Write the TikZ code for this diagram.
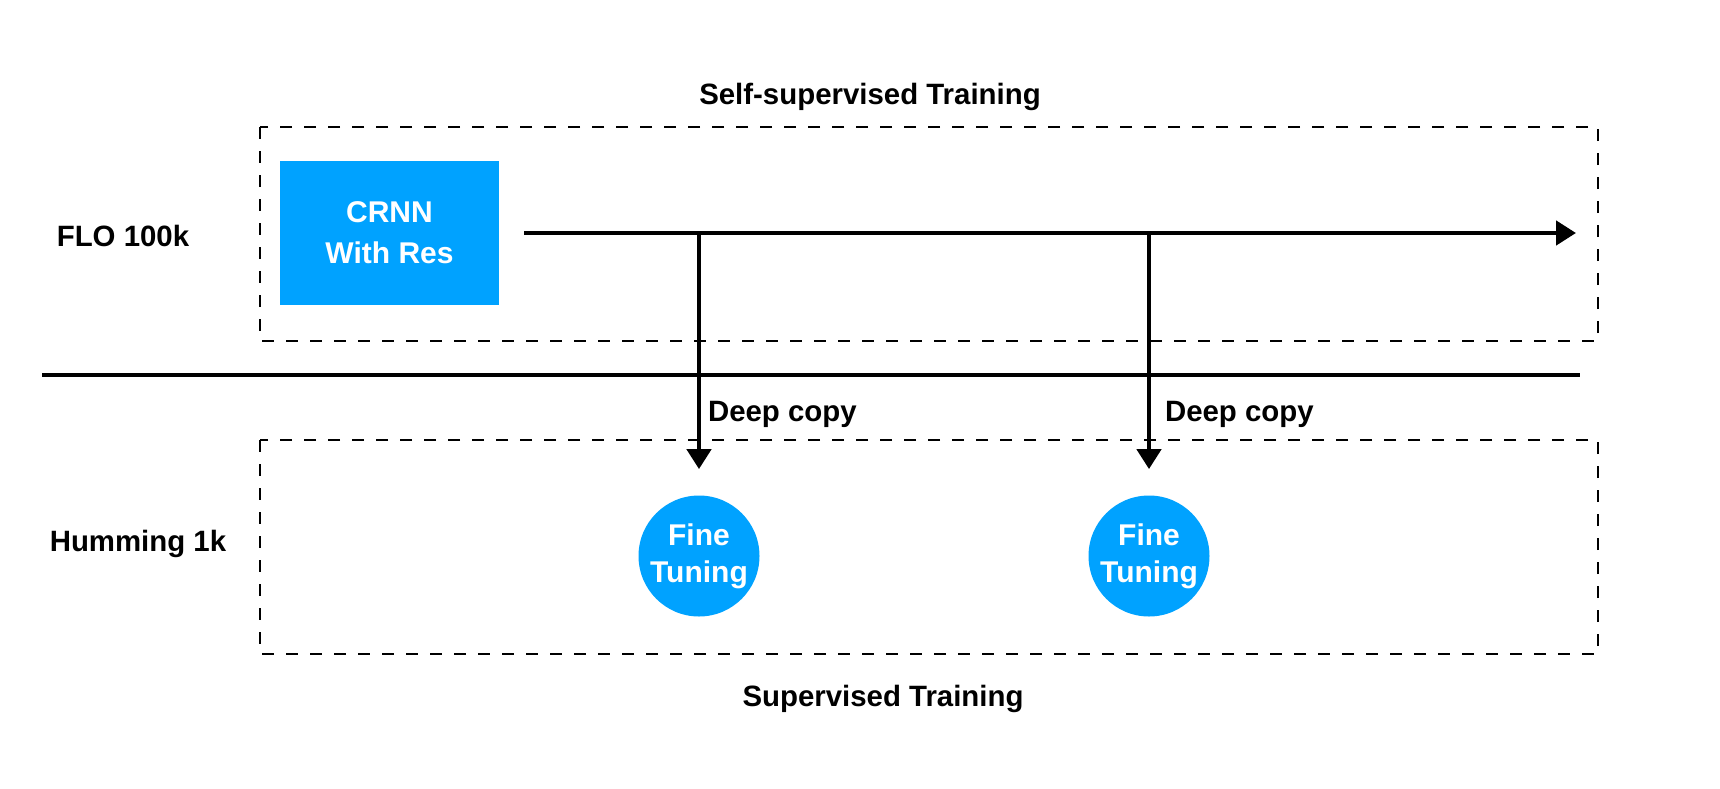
\documentclass[tikz,border=0pt]{standalone}
\usepackage{fontspec}
\setmainfont{Liberation Sans}
\usetikzlibrary{arrows.meta}
\definecolor{netblue}{RGB}{0,162,255}
\tikzset{
	lbl/.style={font=\fontsize{14.7}{17}\selectfont\bfseries},
	group/.style={line width=1pt, dash pattern=on 6pt off 6pt},
	flow/.style={line width=2.3pt, -{Triangle[length=10pt,width=12pt]}},
	model/.style={fill=netblue, text=white, align=center, inner sep=0pt,
		font=\fontsize{15}{20.5}\selectfont\bfseries},
	tune/.style={model, circle, minimum size=60.5pt,
		font=\fontsize{15}{18.5}\selectfont\bfseries},
}
\begin{document}
\begin{tikzpicture}[x=0.5pt,y=-0.5pt]
		\useasboundingbox (0,0) rectangle (1720,788);

		\coordinate (top_nw) at (260,127);
		\coordinate (top_se) at (1598,341);
		\coordinate (bot_nw) at (260,440);
		\coordinate (bot_se) at (1598,654);

		\draw [group] (top_nw) rectangle (top_se);
		\draw [group] (bot_nw) rectangle (bot_se);
		\draw [line width=2.3pt] (42,375)--(1580,375);

		\node [model, minimum width=109.5pt, minimum height=72pt] (crnn) at (389.5,233) {CRNN\\With Res};
		\node [tune] (ft_1) at (699,556) {Fine\\Tuning};
		\node [tune] (ft_2) at (1149,556) {Fine\\Tuning};

		\coordinate (end) at (1576,233);
		\coordinate (b_1) at (crnn.east -| ft_1);
		\coordinate (b_2) at (crnn.east -| ft_2);

		\draw [flow, shorten <=12.5pt] (crnn.east)--(end);
		\draw [flow, shorten >=13pt] (b_1)--(ft_1);
		\draw [flow, shorten >=13pt] (b_2)--(ft_2);

		\node [lbl, anchor=west] at (701,414) {Deep copy};
		\node [lbl, anchor=west] at (1158,414) {Deep copy};

		\node [lbl] at (870,97) {Self-supervised Training};
		\node [lbl] at (883,699) {Supervised Training};
		\node [lbl] at (123,236) {FLO 100k};
		\node [lbl] at (138,544) {Humming 1k};

	\end{tikzpicture}
\end{document}
